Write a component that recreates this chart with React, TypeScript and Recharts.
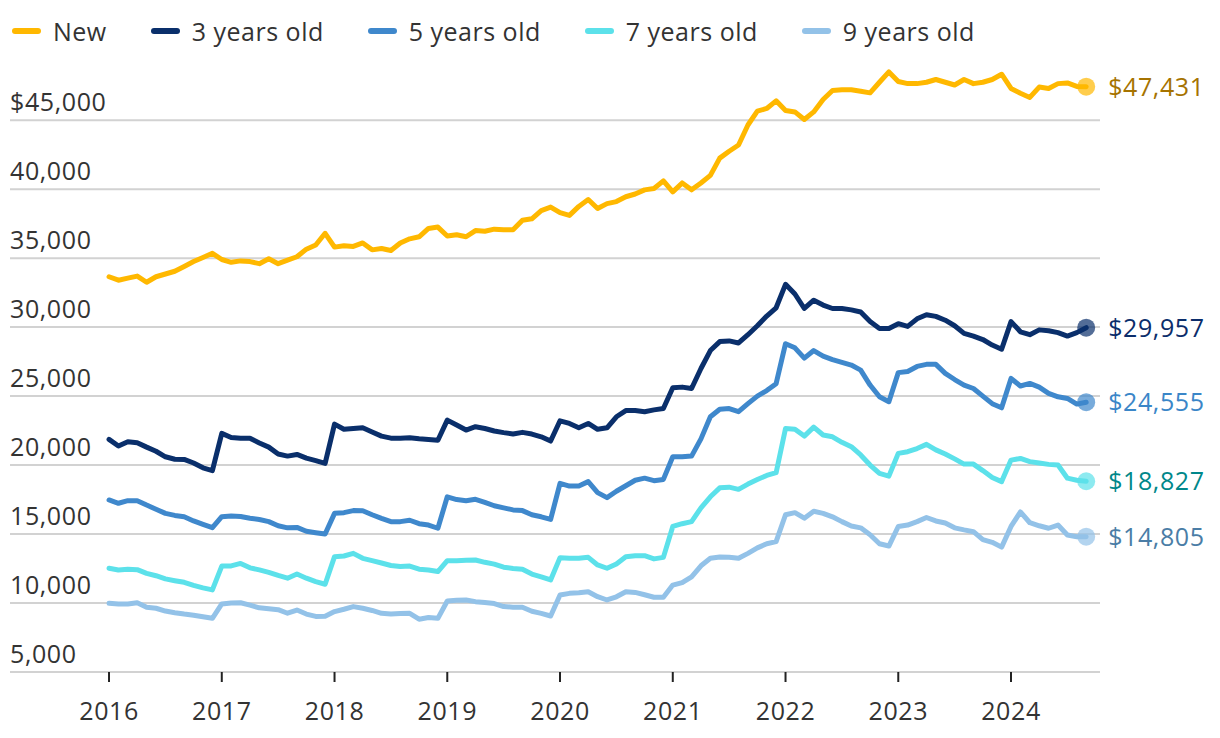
import { LineChart, Line, XAxis, YAxis, ReferenceLine } from "recharts";

// monthly, Jan 2016 .. Sep 2024
const months: number[] = Array.from({ length: 105 }, (_, i) => i);

const newCar: number[] = [
  33650, 33400, 33550, 33700, 33250, 33650, 33850, 34050, 34400, 34750, 35050, 35350,
  34900, 34700, 34800, 34750, 34600, 34950, 34600, 34850, 35100, 35650, 35950, 36800,
  35800, 35900, 35850, 36100, 35600, 35700, 35550, 36100, 36400, 36550, 37150, 37250,
  36600, 36700, 36550, 37000, 36950, 37100, 37050, 37050, 37750, 37850, 38450, 38700,
  38300, 38100, 38750, 39250, 38600, 38950, 39100, 39450, 39650, 39950, 40050, 40600,
  39800, 40450, 39950, 40450, 41000, 42250, 42750, 43200, 44650, 45650, 45850, 46400,
  45700, 45600, 45050, 45600, 46500, 47150, 47200, 47200, 47100, 46980, 47750, 48500,
  47800, 47650, 47650, 47750, 47950, 47750, 47550, 47950, 47650, 47750, 47950, 48330,
  47300, 46950, 46650, 47400, 47300, 47650, 47700, 47450, 47431,
];

const threeYr: number[] = [
  21860, 21380, 21690, 21620, 21300, 21000, 20600, 20420, 20410, 20150, 19800, 19600,
  22300, 22000, 21950, 21950, 21600, 21300, 20800, 20650, 20770, 20500, 20320, 20120,
  22970, 22600, 22650, 22700, 22400, 22100, 21950, 21950, 21980, 21900, 21850, 21800,
  23260, 22900, 22540, 22780, 22650, 22470, 22350, 22250, 22370, 22250, 22050, 21740,
  23210, 23020, 22710, 23020, 22590, 22700, 23500, 23950, 23950, 23870, 24000, 24100,
  25600, 25650, 25550, 27000, 28300, 28950, 29000, 28850, 29450, 30100, 30800, 31400,
  33100, 32400, 31350, 31950, 31600, 31350, 31350, 31250, 31100, 30400, 29900, 29900,
  30250, 30050, 30600, 30900, 30780, 30500, 30100, 29550, 29350, 29100, 28700, 28400,
  30400, 29660, 29450, 29800, 29740, 29600, 29350, 29600, 29957,
];

const fiveYr: number[] = [
  17470, 17230, 17420, 17420, 17100, 16800, 16500, 16350, 16250, 15950, 15700, 15460,
  16260, 16300, 16270, 16150, 16050, 15900, 15600, 15450, 15480, 15200, 15100, 15000,
  16500, 16550, 16700, 16690, 16400, 16140, 15900, 15900, 16000, 15750, 15650, 15420,
  17700, 17500, 17420, 17520, 17300, 17050, 16900, 16750, 16700, 16400, 16250, 16060,
  18670, 18480, 18480, 18800, 18000, 17640, 18100, 18500, 18900, 19050, 18870, 18960,
  20600, 20600, 20650, 21900, 23500, 24050, 24100, 23870, 24450, 25000, 25400, 25900,
  28800, 28500, 27750, 28300, 27900, 27650, 27450, 27250, 26880, 25800, 24950, 24590,
  26700, 26780, 27150, 27300, 27300, 26650, 26200, 25800, 25550, 25000, 24450, 24150,
  26280, 25730, 25920, 25650, 25200, 24950, 24830, 24420, 24555,
];

const sevenYr: number[] = [
  12520, 12400, 12440, 12420, 12150, 11980, 11750, 11620, 11500, 11280, 11100, 10950,
  12680, 12690, 12870, 12550, 12400, 12220, 12000, 11800, 12100, 11800, 11550, 11360,
  13360, 13410, 13600, 13240, 13070, 12900, 12720, 12640, 12680, 12450, 12400, 12280,
  13070, 13070, 13100, 13120, 12950, 12820, 12600, 12500, 12450, 12100, 11900, 11670,
  13290, 13250, 13240, 13310, 12760, 12520, 12830, 13350, 13420, 13430, 13200, 13310,
  15550, 15750, 15900, 16900, 17700, 18350, 18400, 18240, 18620, 18950, 19250, 19450,
  22650, 22600, 22100, 22750, 22180, 22050, 21650, 21330, 20730, 20000, 19400, 19200,
  20850, 20970, 21200, 21500, 21100, 20800, 20450, 20070, 20070, 19600, 19100, 18800,
  20360, 20480, 20250, 20150, 20050, 20000, 19050, 18900, 18827,
];

const nineYr: number[] = [
  9980, 9930, 9930, 10020, 9700, 9620, 9420, 9300, 9200, 9120, 9000, 8890,
  9930, 10000, 10020, 9850, 9650, 9580, 9520, 9260, 9490, 9200, 9030, 9050,
  9380, 9550, 9740, 9620, 9460, 9250, 9210, 9240, 9250, 8830, 8950, 8890,
  10150, 10200, 10220, 10100, 10030, 9960, 9740, 9700, 9690, 9400, 9250, 9060,
  10580, 10700, 10750, 10820, 10460, 10220, 10450, 10820, 10770, 10600, 10420, 10420,
  11300, 11480, 11900, 12700, 13240, 13330, 13320, 13240, 13600, 14000, 14300, 14450,
  16400, 16550, 16150, 16650, 16500, 16250, 15900, 15580, 15450, 14950, 14300, 14130,
  15550, 15650, 15900, 16200, 15950, 15800, 15450, 15300, 15170, 14600, 14400, 14050,
  15550, 16600, 15820, 15600, 15420, 15650, 14930, 14810, 14805,
];

const yearTicks: number[] = [0, 12, 24, 36, 48, 60, 72, 84, 96];
const yearLabels: string[] = ["2016", "2017", "2018", "2019", "2020", "2021", "2022", "2023", "2024"];
const valueTicks: number[] = [5000, 10000, 15000, 20000, 25000, 30000, 35000, 40000, 45000];

const FONT = "'Open Sans', sans-serif";

const series = [
  { key: "new", name: "New", values: newCar, color: "#FFB800", labelColor: "#A67300" },
  { key: "y3", name: "3 years old", values: threeYr, color: "#0A2F6B", labelColor: "#0B2D6B" },
  { key: "y5", name: "5 years old", values: fiveYr, color: "#3F88CC", labelColor: "#3A86C8" },
  { key: "y7", name: "7 years old", values: sevenYr, color: "#5CE1EA", labelColor: "#00878A" },
  { key: "y9", name: "9 years old", values: nineYr, color: "#93C2E8", labelColor: "#4A7DA6" },
];

const data = months.map((m, i) => {
  const row: Record<string, number> = { m };
  series.forEach((s) => (row[s.key] = s.values[i]));
  return row;
});

const last = months.length - 1;

const renderYTick = (props: any) => {
  const { y, payload, index } = props;
  const v = Number(payload.value);
  const txt = (v === 45000 ? "$" : "") + v.toLocaleString("en-US");
  return (
    <text key={`yt${index}`} x={10} y={y - 9} fontSize={25} fill="#333" fontFamily={FONT} letterSpacing={0.6}>
      {txt}
    </text>
  );
};

const renderXTick = (props: any) => {
  const { x, payload, index } = props;
  const idx = yearTicks.indexOf(payload.value);
  return (
    <text key={`xt${index}`} x={x} y={720} textAnchor="middle" fontSize={25} fill="#333" fontFamily={FONT} letterSpacing={0.6}>
      {yearLabels[idx]}
    </text>
  );
};

const endDot = (color: string, labelColor: string) => (props: any) => {
  const { cx, cy, index, value } = props;
  if (index !== last) return <g key={`d${index}`} />;
  const v = Array.isArray(value) ? value[1] : value;
  return (
    <g key={`d${index}`}>
      <circle cx={cx} cy={cy} r={9} fill={color} fillOpacity={0.7} />
      <text x={cx + 22} y={cy + 9} fontSize={25} fill={labelColor} fontFamily={FONT} letterSpacing={0.6}>
        {"$" + Number(v).toLocaleString("en-US")}
      </text>
    </g>
  );
};

export default function App(): JSX.Element {
  return (
    <div style={{ position: "absolute", left: 0, top: 0, width: 1220, height: 738, background: "#fff" }}>
      <div
        style={{
          position: "absolute",
          left: 12,
          top: 14,
          display: "flex",
          alignItems: "center",
          fontFamily: FONT,
          fontSize: 25,
          color: "#333",
          letterSpacing: 0.5,
          lineHeight: "34px",
        }}
      >
        {series.map((s) => (
          <div key={s.key} style={{ display: "flex", alignItems: "center", marginRight: 44 }}>
            <span
              style={{ width: 29, height: 6, borderRadius: 3, background: s.color, marginRight: 12, display: "inline-block" }}
            />
            <span>{s.name}</span>
          </div>
        ))}
      </div>
      <LineChart width={1220} height={738} data={data} margin={{ top: 65, right: 120, bottom: 0, left: 9 }}>
        <XAxis
          dataKey="m"
          type="number"
          domain={[-10.54, 105.47]}
          ticks={yearTicks}
          height={66}
          axisLine={{ stroke: "#d2d2d2", strokeWidth: 2 }}
          tickLine={{ stroke: "#222", strokeWidth: 2 }}
          tickSize={10}
          tick={renderXTick}
        />
        <YAxis
          type="number"
          domain={[5000, 49000]}
          ticks={valueTicks}
          width={1}
          axisLine={false}
          tickLine={false}
          tick={renderYTick}
        />
        {valueTicks.map((v) => (
          <ReferenceLine key={`g${v}`} y={v} stroke="#d2d2d2" strokeWidth={2} />
        ))}
        {series.map((s) => (
          <Line
            key={s.key}
            dataKey={s.key}
            type="linear"
            stroke={s.color}
            strokeWidth={5}
            strokeLinejoin="round"
            strokeLinecap="round"
            dot={endDot(s.color, s.labelColor)}
            activeDot={false}
            isAnimationActive={false}
          />
        ))}
      </LineChart>
    </div>
  );
}
